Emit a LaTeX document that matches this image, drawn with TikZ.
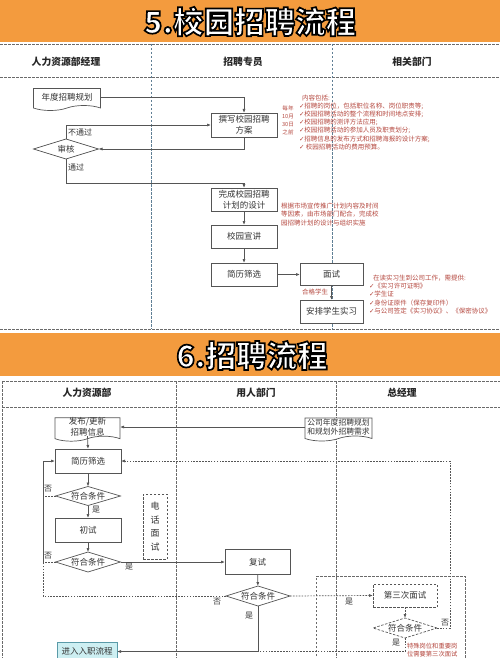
\documentclass[tikz,border=0pt]{standalone}
\usepackage{fontspec}
\setmainfont{Noto Sans CJK SC}
\newfontfamily\dvfont{DejaVu Sans}
\newfontfamily\outlinefont{Noto Sans CJK SC}[BoldFeatures={FakeBold=5.5}]
\usetikzlibrary{shapes.geometric,shapes.symbols,arrows.meta,calc}
\definecolor{orangeband}{HTML}{F39B3E}
\definecolor{redtxt}{HTML}{B5483F}
\definecolor{linegray}{HTML}{555555}
\definecolor{lanegray}{HTML}{6A6A6A}
\definecolor{laneblue}{HTML}{5F7F95}
\definecolor{cyanfill}{HTML}{CDEFF2}
\definecolor{cyanline}{HTML}{5A9AA8}
\newcommand{\ck}{{\dvfont ✓}}
\newcommand{\outlined}[1]{\special{pdf:code 0 G}#1}
\begin{document}
\begin{tikzpicture}[x=1pt,y=-1pt,
 every node/.style={inner sep=0pt,outer sep=0pt},
 boxtxt/.style={font=\fontsize{8.5}{10.5}\selectfont,text=black!80},
 box/.style={boxtxt,draw=linegray,line width=0.7pt,fill=white,minimum width=66pt,minimum height=24pt,align=center},
 docbox/.style={boxtxt,tape,tape bend top=none,tape bend height=5pt,draw=linegray,line width=0.7pt,fill=white,minimum width=66pt,minimum height=22pt,align=center},
 dia/.style={boxtxt,diamond,aspect=3.3,draw=linegray,line width=0.7pt,fill=white,minimum width=65pt,minimum height=20pt},
 arr/.style={draw=linegray,line width=0.7pt,-{Latex[length=4pt,width=3pt]}},
 dline/.style={draw=linegray,line width=0.7pt,dash pattern=on 1.6pt off 1.3pt},
 darr/.style={dline,-{Latex[length=4pt,width=3pt]}},
 hdash/.style={draw=lanegray,line width=0.7pt,dash pattern=on 2.5pt off 1.5pt},
 lane1/.style={draw=laneblue,line width=0.7pt,dash pattern=on 2.5pt off 1.5pt},
 hdr/.style={font=\bfseries\fontsize{9.8}{12}\selectfont,text=black!85},
 lbl/.style={font=\fontsize{8}{10}\selectfont,text=black!80},
 redsmall/.style={font=\fontsize{6.5}{8.2}\selectfont,text=redtxt,align=left},
 titletxt/.style={font=\outlinefont\bfseries\fontsize{30.5}{34}\selectfont,text=white}
]
\useasboundingbox (0,0) rectangle (500,658);
\fill[white] (0,0) rectangle (500,658);

% ===== Section 1 =====
\fill[orangeband] (0,0) rectangle (500,42);
\node[titletxt] (titleA) at (250,21.5) {\outlined{5.校园招聘流程}};

\draw[hdash] (0,44) -- (500,44);
\draw[hdash] (0,77) -- (500,77);
\draw[hdash] (0,329) -- (500,329);
\draw[lane1] (151,44) -- (151,329);
\draw[lane1] (332,44) -- (332,329);

\node[hdr] (hA1) at (66,62) {人力资源部经理};
\node[hdr] (hA2) at (243,62) {招聘专员};
\node[hdr] (hA3) at (412,62) {相关部门};

\node[docbox,minimum width=67pt] (plan) at (67,97) {年度招聘规划};
\node[box] (write) at (244,125) {撰写校园招聘\\方案};
\node[dia] (review) at (66,149) {审核};
\node[box,minimum height=23pt] (design) at (244,199.5) {完成校园招聘\\计划的设计};
\node[box,minimum height=23pt] (talk) at (244,236.5) {校园宣讲};
\node[box,minimum height=23pt] (screen) at (244,274.5) {简历筛选};
\node[box,minimum width=63pt,minimum height=22pt] (interview) at (331.5,274.5) {面试};
\node[box,minimum width=63pt,minimum height=23pt] (intern) at (331.5,311.5) {安排学生实习};

\draw[arr] (plan.east) -| (write.north);
\draw[arr] (review.north) |- (write.west);
\draw[arr] (write.south) |- (review.east);
\draw[arr] (review.south) -- ++(0,24) -| (design.north);
\draw[arr] (design) -- (talk);
\draw[arr] (talk) -- (screen);
\draw[arr] (screen) -- (interview);
\draw[arr] (interview) -- (intern);

\node[lbl,anchor=west] (nopass) at (68,132) {不通过};
\node[lbl,anchor=west] (pass) at (68,167) {通过};
\node[font=\fontsize{6.5}{8}\selectfont,text=redtxt] (qual) at (315,292) {合格学生};

\node[font=\fontsize{5.6}{8}\selectfont,text=redtxt,align=center] (deadline) at (288,120) {每年\\10月\\30日\\之前};
\node[redsmall,anchor=north west] (content) at (299,94.5) {\hspace{3pt}内容包括:\\
\ck 招聘的岗位，包括职位名称、岗位职责等;\\
\ck 校园招聘活动的整个流程和时间地点安排;\\
\ck 校园招聘的测评方法应用;\\
\ck 校园招聘活动的参加人员及职责划分;\\
\ck 招聘信息的发布方式和招聘海报的设计方案;\\
\ck\ 校园招聘活动的费用预算。};
\node[redsmall,anchor=west,font=\fontsize{6.5}{8.6}\selectfont] (market) at (281,214.5) {根据市场宣传推广计划内容及时间\\等因素，由市场部门配合，完成校\\园招聘计划的设计与组织实施};
\node[redsmall,anchor=north west] (docs) at (369,275) {\hspace{4pt}在读实习生到公司工作，需提供:\\
\ck《实习许可证明》\\
\ck 学生证\\
\ck 身份证原件（保存复印件）\\
\ck 与公司签定《实习协议》、《保密协议》};

% ===== Section 2 =====
\fill[orangeband] (0,333) rectangle (500,376);
\node[titletxt] (titleB) at (252,355.5) {\outlined{6.招聘流程}};

\draw[hdash] (2,381) -- (500,381);
\draw[hdash] (2,407) -- (500,407);
\draw[hdash] (2,381) -- (2,658);
\draw[hdash] (176,381) -- (176,658);
\draw[hdash] (336,381) -- (336,658);

\node[hdr] (hB1) at (87,393) {人力资源部};
\node[hdr] (hB2) at (256,393) {用人部门};
\node[hdr] (hB3) at (402,393) {总经理};

\node[docbox,minimum width=65pt,minimum height=23pt] (pub) at (87.5,427) {发布/更新\\招聘信息};
\node[docbox,minimum width=67pt,minimum height=23pt,font=\fontsize{7.8}{9.5}\selectfont] (annual) at (338.5,427) {公司年度招聘规划\\和规划外招聘需求};
\node[box] (screenB) at (88,461) {简历筛选};
\node[dia,minimum height=19pt] (cond1) at (88,496) {符合条件};
\node[box] (first) at (88,530) {初试};
\node[dia] (cond2) at (88,562) {符合条件};
\node[boxtxt,draw=linegray,line width=0.7pt,dash pattern=on 2.5pt off 1.5pt,minimum width=24pt,minimum height=65pt,align=center,font=\fontsize{9}{13.5}\selectfont] (phone) at (155,526.5) {电\\话\\面\\试};
\node[box,minimum width=65pt,minimum height=25pt] (second) at (257.5,562) {复试};
\node[dia,minimum width=64pt] (cond3) at (258,596) {符合条件};
\node[box,minimum width=64pt,minimum height=23pt,dash pattern=on 2.5pt off 1.5pt] (third) at (405,595.5) {第三次面试};
\node[dia,minimum width=64pt,dash pattern=on 2.5pt off 1.5pt] (cond4) at (405,628) {符合条件};
\node[boxtxt,draw=cyanline,line width=0.8pt,fill=cyanfill,minimum width=60pt,minimum height=19pt] (onboard) at (87,651.5) {进入入职流程};

\draw[draw=lanegray,line width=0.7pt,dash pattern=on 2.5pt off 1.5pt] (316,660) -- (316,576) -- (465,576) -- (465,660);

\coordinate (ltop) at (43,461);
\coordinate (lmid) at (43,562);
\coordinate (lbot) at (43,596);
\coordinate (rtop) at (450,461);
\coordinate (join) at (258,651);

\draw[arr] (annual.west) -- (pub.east);
\draw[arr] (pub.south) -- (screenB.north);
\draw[arr] (screenB) -- (cond1);
\draw[arr] (cond1) -- (first);
\draw[arr] (first) -- (cond2);
\draw[arr] (cond2.east) -- (second.west);
\draw[arr] (second) -- (cond3);
\draw[darr] (cond3.east) -- (third.west);
\draw[darr] (third) -- (cond4);
\draw[arr] (cond3.south) |- (onboard.east);
\draw[dline] (cond4.south) |- (join);
\draw[darr] (cond4.east) -| (rtop) -- (screenB.east);
\draw[dline] (cond3.west) -- (lbot) -- (lmid);
\draw[dline] (cond2.west) -- (lmid);
\draw[dline] (cond1.west) -- (cond1.west -| ltop);
\draw[arr] (lmid) -- (ltop) -- (screenB.west);

\node[lbl] (no1) at (48,489) {否};
\node[lbl] (yes1) at (96,510) {是};
\node[lbl] (no2) at (48,556) {否};
\node[lbl] (yes2) at (129,567) {是};
\node[lbl] (no3) at (217,602) {否};
\node[lbl] (yes3) at (349,602) {是};
\node[lbl] (yes4) at (249,616) {是};
\node[lbl] (no4) at (445,623) {否};
\node[lbl] (yes5) at (396,643) {是};
\node[font=\fontsize{6.3}{8}\selectfont,text=redtxt,align=left,anchor=west] (special) at (407,650.5) {特殊岗位和重要岗\\位需要第三次面试};
\end{tikzpicture}
\end{document}
